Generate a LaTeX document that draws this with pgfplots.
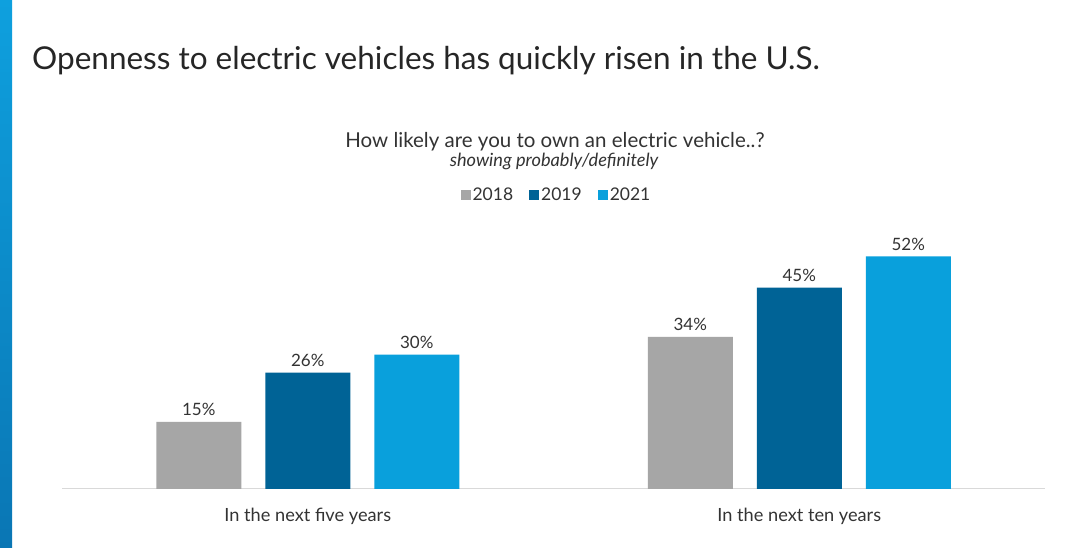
\documentclass[border=0pt]{standalone}
\usepackage{pgfplots}
\pgfplotsset{compat=1.18}
\usepackage{fontspec}
\setmainfont{Lato}
\definecolor{cgray}{RGB}{166,166,166}
\definecolor{cdark}{RGB}{0,99,150}
\definecolor{clight}{RGB}{9,160,220}
\definecolor{ctitle}{RGB}{38,38,38}
\definecolor{ctext}{RGB}{51,51,51}
\definecolor{stripTop}{RGB}{14,160,222}
\definecolor{stripBot}{RGB}{10,118,180}
\begin{document}
\begin{tikzpicture}[x=1pt,y=1pt]
\path[use as bounding box, fill=white] (0,0) rectangle (1080,548);
\shade[top color=stripTop, bottom color=stripBot] (0,0) rectangle (12,548);
\node[anchor=base west, inner sep=0, text=ctitle, font=\fontsize{31.5}{36}\selectfont] at (32,478) {Openness to electric vehicles has quickly risen in the U.S.};
\node[anchor=base, inner sep=0, text=ctext, font=\fontsize{20.5}{24}\selectfont] at (555,400) {How likely are you to own an electric vehicle..?};
\node[anchor=base, inner sep=0, text=ctext, font=\fontsize{18.2}{22}\selectfont\itshape] at (554,381) {showing probably/definitely};
\begin{axis}[
  at={(62pt,59pt)}, anchor=south west,
  scale only axis, width=983pt, height=268.5pt,
  xmin=-0.5, xmax=1.5, ymin=0, ymax=60,
  ybar=24pt, bar width=85pt,
  hide y axis,
  axis x line*=bottom,
  x axis line style={-, draw=black!15, line width=1pt},
  xtick={0,1}, xticklabels={In the next five years, In the next ten years},
  xtick style={draw=none},
  xticklabel style={anchor=base, inner sep=0pt, yshift=-28pt, text=ctext, font=\fontsize{18.2}{22}\selectfont},
  /pgf/number format/assume math mode=true,
  nodes near coords={\pgfmathprintnumber{\pgfplotspointmeta}\%},
  nodes near coords style={anchor=base, inner sep=0pt, yshift=6pt, text=ctext, font=\fontsize{17}{20}\selectfont},
  legend columns=3,
  legend style={at={(0.503,1.095)}, anchor=center, draw=none, fill=none, text=ctext,
    font=\fontsize{17.5}{21}\selectfont,
    nodes={inner sep=2pt},
    /tikz/every even column/.append style={column sep=14pt}},
  clip=false,
]
\addplot[fill=cgray, draw=none, legend image code/.code={\fill[cgray] (0pt,-5pt) rectangle (10pt,5pt);}] coordinates {(0,15) (1,34)};
\addlegendentry{2018}
\addplot[fill=cdark, draw=none, legend image code/.code={\fill[cdark] (0pt,-5pt) rectangle (10pt,5pt);}] coordinates {(0,26) (1,45)};
\addlegendentry{2019}
\addplot[fill=clight, draw=none, legend image code/.code={\fill[clight] (0pt,-5pt) rectangle (10pt,5pt);}] coordinates {(0,30) (1,52)};
\addlegendentry{2021}
\end{axis}
\end{tikzpicture}
\end{document}
